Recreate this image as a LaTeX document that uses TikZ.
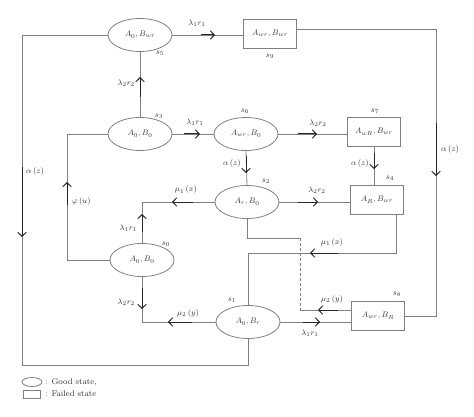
\documentclass[tikz,border=0pt]{standalone}
\usetikzlibrary{shapes.geometric,arrows.meta}
\definecolor{linegray}{gray}{0.5}
\definecolor{textgray}{gray}{0.2}
\begin{document}
\begin{tikzpicture}[x=1pt,y=-1pt,
  every node/.style={font=\fontsize{8.3}{10}\selectfont,text=textgray},
  good/.style={draw=linegray,line width=0.8pt,ellipse,minimum width=64pt,minimum height=33pt,inner sep=0pt},
  bad/.style={draw=linegray,line width=0.8pt,rectangle,minimum width=53pt,minimum height=29pt,inner sep=0pt},
  conn/.style={draw=linegray,line width=0.8pt},
  arrowseg/.style={draw=black!85,line width=1pt,-{Straight Barb[length=4pt,width=8.5pt,line width=1pt]}},
  lab/.style={inner sep=1pt}
]
\useasboundingbox (0,0) rectangle (474,417);
% states
\node[good] (s5) at (140,35) {$A_0, B_{wr}$};
\node[bad]  (s9) at (270,34) {$A_{wr}, B_{wr}$};
\node[good] (s3) at (140,134) {$A_0, B_0$};
\node[good] (s6) at (246,134) {$A_{wr}, B_0$};
\node[bad]  (s7) at (374,132) {$A_{wR}, B_{wr}$};
\node[good] (s2) at (247,202) {$A_r, B_0$};
\node[bad]  (s4) at (377,200) {$A_R, B_{wr}$};
\node[good] (s0) at (142,260) {$A_0, B_0$};
\node[good] (s1) at (248,322) {$A_0, B_r$};
\node[bad]  (s8) at (378,316) {$A_{wr}, B_R$};
% helper coordinates
\coordinate (ol) at (22,365);
\coordinate (il) at (67,0);
\coordinate (or) at (436,0);
\coordinate (d1) at (300,238);
\coordinate (d2) at (300,310);
\coordinate (m1) at (396,253);
% connectors
\draw[conn] (s5.east) -- (s5.east -| s9.west);
\draw[conn] ([yshift=5pt]s9.east) -| (or |- s8.east) -- (s8.east);
\draw[conn] (s5.west) -| (ol) -| (s1.south);
\draw[conn] (s3.north) -- (s5.south);
\draw[conn] (s3.east) -- (s6.west);
\draw[conn] (s3.west) -| (il |- s0.west) -- (s0.west);
\draw[conn] (s6.east) -- (s6.east -| s7.west);
\draw[conn] (s6.south) -- (s2.north);
\draw[conn] (s7.south) -- (s7.south |- s4.north);
\draw[conn] (s2.east) -- (s2.east -| s4.west);
\draw[conn] (s2.west) -| (s0.north);
\draw[conn] (s0.south) |- (s1.west);
\draw[conn] (s2.south) |- (d1);
\draw[conn,dashed,dash pattern=on 3pt off 2pt] (d1) -- (d2);
\draw[conn] (d2) -- (d2 -| s8.west);
\draw[conn] (s4.south -| m1) -- (m1) -| (s1.north);
\draw[conn] (s1.east) -- (s1.east -| s8.west);
% arrow marks
\draw[arrowseg] (201,35) -- (215,35);
\draw[arrowseg] (436,123) -- (436,176);
\draw[arrowseg] (22,167) -- (22,237);
\draw[arrowseg] (140,97) -- (140,77);
\draw[arrowseg] (184,134) -- (200,134);
\draw[arrowseg] (67,205) -- (67,182);
\draw[arrowseg] (298,134) -- (317,134);
\draw[arrowseg] (246,156) -- (246,173);
\draw[arrowseg] (374,153) -- (374,169);
\draw[arrowseg] (298,202) -- (318,202);
\draw[arrowseg] (193,202) -- (172,202);
\draw[arrowseg] (142,232) -- (142,214);
\draw[arrowseg] (142,288) -- (142,309);
\draw[arrowseg] (192,322) -- (168,322);
\draw[arrowseg] (338,310) -- (318,310);
\draw[arrowseg] (338,253) -- (310,253);
\draw[arrowseg] (303,322) -- (320,322);
% state labels
\node[lab] (l5) at (160,53) {$s_5$};
\node[lab] (l9) at (270,56) {$s_9$};
\node[lab] (l3) at (159,116) {$s_3$};
\node[lab] (l6) at (245,111) {$s_6$};
\node[lab] (l7) at (375,111) {$s_7$};
\node[lab] (l4) at (390,178) {$s_4$};
\node[lab] (l2) at (266,181) {$s_2$};
\node[lab] (l0) at (166,244) {$s_0$};
\node[lab] (l1) at (232,300) {$s_1$};
\node[lab] (l8) at (397,294) {$s_8$};
% transition labels
\node[lab] (t1) at (197,23) {$\lambda_1 r_1$};
\node[lab,anchor=east] (t2) at (136,83) {$\lambda_2 r_2$};
\node[lab] (t3) at (195,122) {$\lambda_1 r_1$};
\node[lab] (t4) at (318,123) {$\lambda_2 r_2$};
\node[lab,anchor=east] (t5) at (370,163) {$\alpha\,(z)$};
\node[lab,anchor=east] (t6) at (242,164) {$\alpha\,(z)$};
\node[lab] (t7) at (317,190) {$\lambda_2 r_2$};
\node[lab] (t8) at (186,190) {$\mu_1\,(x)$};
\node[lab,anchor=east] (t9) at (138,228) {$\lambda_1 r_1$};
\node[lab,anchor=west] (t10) at (71,201) {$\varphi\,(u)$};
\node[lab,anchor=west] (t11) at (25,172) {$\alpha\,(z)$};
\node[lab,anchor=west] (t12) at (440,150) {$\alpha\,(z)$};
\node[lab,anchor=east] (t13) at (136,302) {$\lambda_2 r_2$};
\node[lab] (t14) at (188,313) {$\mu_2\,(y)$};
\node[lab] (t15) at (332,242) {$\mu_1\,(x)$};
\node[lab] (t16) at (332,299) {$\mu_2\,(y)$};
\node[lab] (t17) at (310,333) {$\lambda_1 r_1$};
% legend
\node[draw=linegray,line width=0.8pt,ellipse,minimum width=20pt,minimum height=9pt,inner sep=0pt] (lg) at (32,382) {};
\node[lab,anchor=west] (lgt) at (44,382) {: Good state,};
\node[draw=linegray,line width=0.8pt,rectangle,minimum width=17pt,minimum height=8pt,inner sep=0pt] (lf) at (32,394) {};
\node[lab,anchor=west] (lft) at (44,394) {: Failed state};
\end{tikzpicture}
\end{document}
